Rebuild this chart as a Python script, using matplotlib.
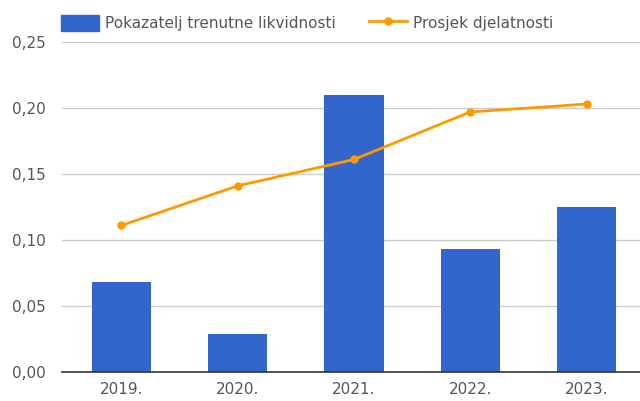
import numpy as np
import matplotlib.pyplot as plt
from matplotlib.lines import Line2D
from matplotlib.patches import Patch

plt.rcParams['font.family'] = ['DejaVu Sans']

years = ['2019.', '2020.', '2021.', '2022.', '2023.']
likvidnost = [0.068, 0.029, 0.210, 0.093, 0.125]
prosjek = [0.111, 0.141, 0.161, 0.197, 0.203]
yticks = [0.00, 0.05, 0.10, 0.15, 0.20, 0.25]

blue = '#3366cc'
orange = '#ff9900'
txt = '#555555'

fig = plt.figure(figsize=(6.4, 4.01), dpi=100)
ax = fig.add_axes([62/640, 1 - 372/401, 578/640, 330/401])

x = np.arange(len(years))
ax.bar(x, likvidnost, width=0.51, color=blue, zorder=2)
ax.plot(x, prosjek, color=orange, lw=2, marker='o', ms=5, zorder=3)

ax.set_xlim(-0.51, 4.46)
ax.set_ylim(0, 0.25)
ax.set_yticks(yticks)
ax.set_yticklabels([('%.2f' % v).replace('.', ',') for v in yticks])
ax.set_xticks(x)
ax.set_xticklabels(years)
ax.tick_params(length=0, labelsize=11, labelcolor=txt)
ax.tick_params(axis='y', pad=11.5)
ax.tick_params(axis='x', pad=7)
ax.grid(axis='y', color='#cccccc', lw=1, zorder=0)
for s in ['top', 'right', 'left']:
    ax.spines[s].set_visible(False)
ax.spines['bottom'].set_color('#333333')
ax.spines['bottom'].set_linewidth(1.2)
ax.spines['bottom'].set_zorder(4)

handles = [Patch(color=blue, label='Pokazatelj trenutne likvidnosti'),
           Line2D([0], [0], color=orange, lw=2, marker='o', ms=5, label='Prosjek djelatnosti')]
fig.legend(handles=handles, loc='center left', bbox_to_anchor=(47/640, 1 - 23/401),
           ncol=2, frameon=False, fontsize=11, labelcolor=txt,
           handlelength=2.5, handleheight=1.3, handletextpad=0.4, columnspacing=2.15)

fig.savefig('out.png', dpi=100)
